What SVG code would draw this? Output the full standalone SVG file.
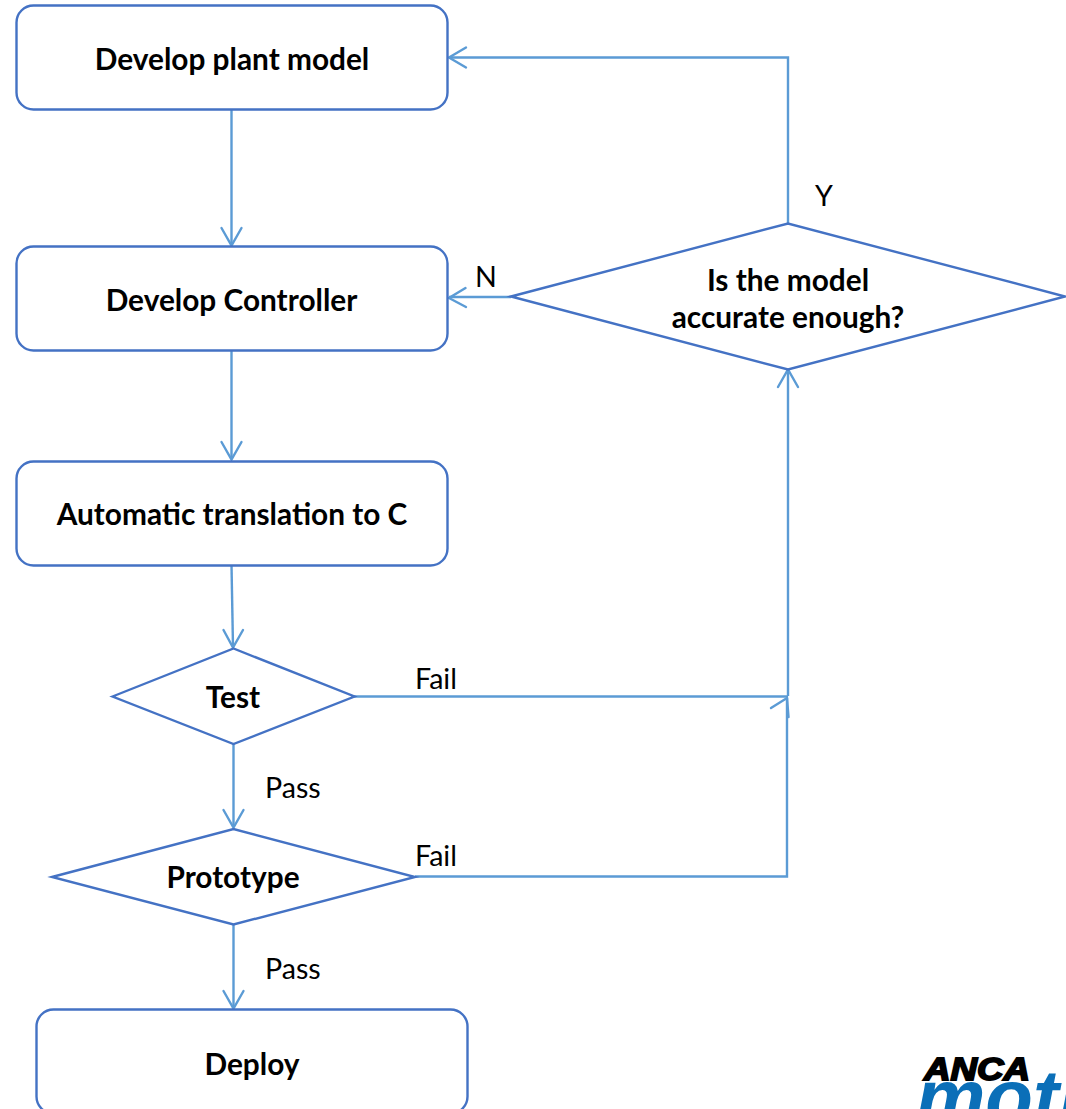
<svg xmlns="http://www.w3.org/2000/svg" width="1066" height="1109" viewBox="0 0 1066 1109">
<style>
.n{fill:#fff;stroke:#4472c4;stroke-width:2.4}
.c{fill:none;stroke:#5b9bd5;stroke-width:2.4}
.a{fill:none;stroke:#5b9bd5;stroke-width:2.4;stroke-linecap:round;stroke-linejoin:miter}
text{font-family:Lato,"Liberation Sans",sans-serif;font-size:28.6px;fill:#000}
.b{font-weight:700;text-anchor:middle;font-size:29.8px}
</style>
<rect width="1066" height="1109" fill="#fff"/>
<g id="connectors">
<path class="c" d="M231.500 109V245"/>
<path class="a" d="M221.500 228L231.500 245.500L241.500 228"/>
<path class="c" d="M231.500 350V459"/>
<path class="a" d="M221.500 442L231.500 459.500L241.500 442"/>
<path class="c" d="M231.500 565L233 647"/>
<path class="a" d="M223.500 630L233 647.500L243 630"/>
<path class="c" d="M233.500 744V827"/>
<path class="a" d="M223.500 810L233.500 827.500L243.500 810"/>
<path class="c" d="M233.500 924V1008"/>
<path class="a" d="M223.500 991L233.500 1008.500L243.500 991"/>
<path class="c" d="M354 696.500H788"/>
<path class="c" d="M415 876.500H787V698"/>
<path class="a" d="M771 708L787 698L788.500 717"/>
<path class="c" d="M788 696V370"/>
<path class="a" d="M778 387L788 369.500L798 387"/>
<path class="c" d="M788 224V57.500H449"/>
<path class="a" d="M466 47.500L449 57.500L466 67.500"/>
<path class="c" d="M511 297H449"/>
<path class="a" d="M465.500 288L449 298L466 307"/>
</g>
<g id="node-plant"><rect class="n" x="16.500" y="5.500" width="431" height="104" rx="17"/><text class="b" x="232" y="70">Develop plant model</text></g>
<g id="node-controller"><rect class="n" x="16.500" y="246.500" width="431" height="104" rx="17"/><text class="b" x="231.500" y="311">Develop Controller</text></g>
<g id="node-translate"><rect class="n" x="16.500" y="461.500" width="431" height="104" rx="17"/><text class="b" x="232" y="525">Automatic translation to C</text></g>
<g id="node-test"><polygon class="n" points="112.500,696.500 233.500,648.500 354.500,696.500 233.500,744"/><text class="b" x="233" y="708">Test</text></g>
<g id="node-prototype"><polygon class="n" points="52,877 233.500,829 415,877 233.500,924.500"/><text class="b" x="233" y="888">Prototype</text></g>
<g id="node-deploy"><rect class="n" x="36.500" y="1009.500" width="431" height="104" rx="17"/><text class="b" x="252" y="1075">Deploy</text></g>
<g id="node-accurate"><polygon class="n" points="511,296.500 788,223.500 1065,296.500 788,369.500"/><text class="b" x="788" y="291">Is the model</text><text class="b" x="788" y="328">accurate enough?</text></g>
<g id="labels">
<text x="824" y="206" text-anchor="middle">Y</text>
<text x="486" y="287" text-anchor="middle">N</text>
<text x="415" y="689">Fail</text>
<text x="415" y="866">Fail</text>
<text x="265" y="798">Pass</text>
<text x="265" y="979">Pass</text>
</g>
<g id="logo">
<text x="924" y="1080" style="font-family:'Liberation Sans',sans-serif;font-size:31px;font-weight:700;font-style:italic;stroke:#000;stroke-width:1.800" textLength="106" lengthAdjust="spacingAndGlyphs">ANCA</text>
<text x="916" y="1124" style="font-family:'Liberation Sans',sans-serif;font-size:78px;font-weight:700;font-style:italic;fill:#0b6fb8">moti</text>
</g>
</svg>
